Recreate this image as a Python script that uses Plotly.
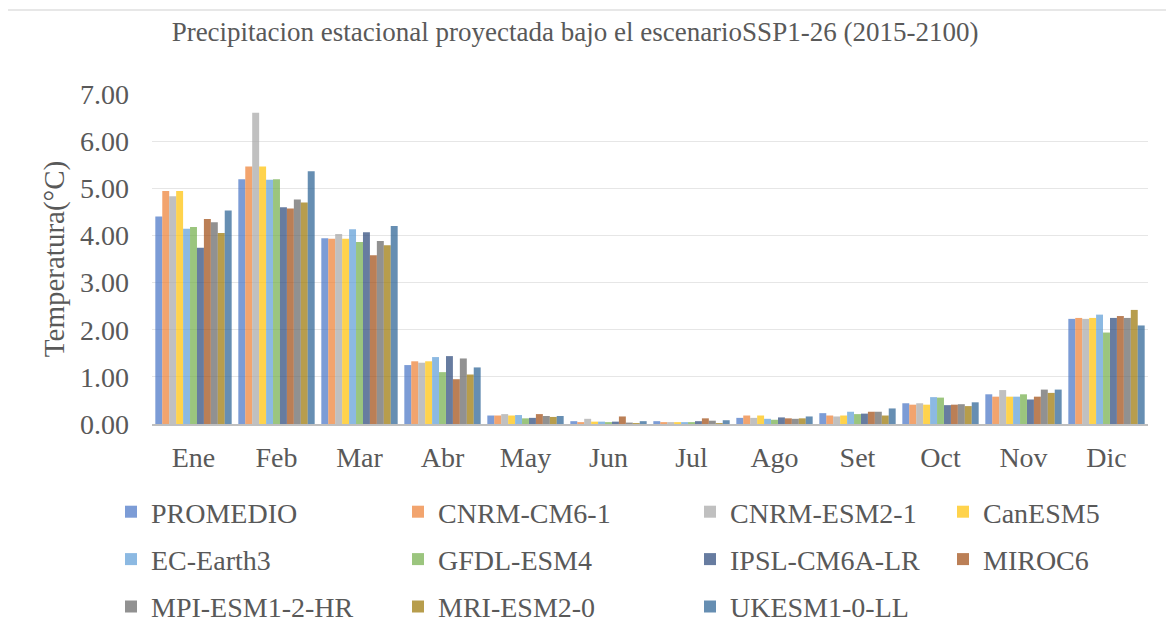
import plotly.graph_objects as go

months = ["Ene", "Feb", "Mar", "Abr", "May", "Jun", "Jul", "Ago", "Set", "Oct", "Nov", "Dic"]

promedio   = [4.40, 5.19, 3.94, 1.25, 0.18, 0.06, 0.06, 0.13, 0.23, 0.44, 0.63, 2.23]
cnrm_cm6   = [4.94, 5.46, 3.93, 1.33, 0.18, 0.04, 0.04, 0.18, 0.18, 0.41, 0.58, 2.25]
cnrm_esm2  = [4.83, 6.60, 4.03, 1.30, 0.21, 0.11, 0.04, 0.13, 0.16, 0.44, 0.72, 2.23]
canesm5    = [4.94, 5.46, 3.93, 1.33, 0.18, 0.05, 0.04, 0.18, 0.18, 0.41, 0.58, 2.25]
ec_earth3  = [4.14, 5.18, 4.13, 1.42, 0.19, 0.05, 0.04, 0.11, 0.26, 0.57, 0.58, 2.32]
gfdl_esm4  = [4.18, 5.19, 3.86, 1.10, 0.12, 0.04, 0.04, 0.09, 0.21, 0.56, 0.63, 1.94]
ipsl       = [3.74, 4.60, 4.07, 1.44, 0.13, 0.05, 0.06, 0.14, 0.22, 0.40, 0.52, 2.25]
miroc6     = [4.35, 4.57, 3.58, 0.95, 0.21, 0.16, 0.12, 0.12, 0.26, 0.41, 0.58, 2.29]
mpi        = [4.28, 4.76, 3.88, 1.39, 0.17, 0.03, 0.07, 0.11, 0.26, 0.42, 0.73, 2.25]
mri        = [4.05, 4.70, 3.79, 1.05, 0.15, 0.02, 0.02, 0.12, 0.18, 0.38, 0.66, 2.42]
ukesm      = [4.53, 5.36, 4.20, 1.20, 0.17, 0.06, 0.08, 0.16, 0.33, 0.46, 0.73, 2.09]

series_names = ["PROMEDIO", "CNRM-CM6-1", "CNRM-ESM2-1", "CanESM5", "EC-Earth3", "GFDL-ESM4",
                "IPSL-CM6A-LR", "MIROC6", "MPI-ESM1-2-HR", "MRI-ESM2-0", "UKESM1-0-LL"]
series_values = [promedio, cnrm_cm6, cnrm_esm2, canesm5, ec_earth3, gfdl_esm4,
                 ipsl, miroc6, mpi, mri, ukesm]
colors = ["#4472C4", "#ED7D31", "#A5A5A5", "#FFC000", "#5B9BD5", "#70AD47",
          "#264478", "#9E480E", "#636363", "#997300", "#255E91"]

y_ticks = [0, 1, 2, 3, 4, 5, 6, 7]

# The page body has an 8px margin; lay the figure out in reference pixels and compensate.
OFF = 8
W, H = 1174 - OFF, 633 - OFF
L = 152 - OFF
T = 94 - OFF
PR = 1148 - OFF       # plot right edge
PB = 424 - OFF        # plot bottom edge
R = W - PR
B = H - PB
pw, ph = PR - L, PB - T

def px_to_paper_x(px):  # px in reference coords
    return (px - OFF - L) / pw

def px_to_paper_y(py):
    return (PB - (py - OFF)) / ph

def rgba(hexc, a=0.7):
    hexc = hexc.lstrip("#")
    r, g, b = int(hexc[0:2], 16), int(hexc[2:4], 16), int(hexc[4:6], 16)
    return f"rgba({r},{g},{b},{a})"

FONT = "Liberation Serif, Times New Roman, serif"
TXT = "#595959"

legend_cols = [0, 1, 2, 3, 0, 1, 2, 3, 0, 1, 2]
legend_ids = ["legend", "legend2", "legend3", "legend4"]

fig = go.Figure()
for i, (name, vals, c) in enumerate(zip(series_names, series_values, colors)):
    fig.add_trace(go.Bar(
        x=months, y=vals, name=name,
        marker=dict(color=rgba(c), line=dict(width=0)),
        legend=legend_ids[legend_cols[i]],
        legendgroup=name,
        hovertemplate="%{x}: %{y:.2f}<extra>" + name + "</extra>",
    ))

col_px = [111, 398, 690, 943]
leg_top = 487
legend_common = dict(
    orientation="v", yanchor="top", xanchor="left",
    font=dict(family=FONT, size=28, color=TXT),
    bgcolor="rgba(0,0,0,0)", tracegroupgap=8,
)
legends = {}
for k, lid in enumerate(legend_ids):
    legends[lid] = dict(x=px_to_paper_x(col_px[k]), y=px_to_paper_y(leg_top), **legend_common)

fig.update_layout(
    width=W, height=H,
    margin=dict(l=L, r=R, t=T, b=B, pad=0, autoexpand=False),
    paper_bgcolor="white", plot_bgcolor="white",
    barmode="group", bargap=0.08, bargroupgap=0,
    showlegend=True,
    title=dict(
        text="Precipitacion estacional proyectada bajo el escenarioSSP1-26 (2015-2100)",
        x=(575 - OFF) / W, xanchor="center", y=1 - (32 - OFF) / H, yanchor="middle",
        xref="container", yref="container",
        font=dict(family=FONT, size=27, color=TXT),
    ),
    font=dict(family=FONT, color=TXT),
    xaxis=dict(
        type="category", categoryorder="array", categoryarray=months,
        showline=True, linecolor="#BFBFBF", linewidth=2,
        showgrid=False, ticks="", ticklabelstandoff=7,
        tickfont=dict(family=FONT, size=28, color=TXT),
        fixedrange=True,
    ),
    yaxis=dict(
        range=[0, 7], tickvals=y_ticks, tickformat=".2f",
        showgrid=True, gridcolor="#E6E6E6", gridwidth=1,
        zeroline=False, showline=False, ticks="",
        ticklabelstandoff=22,
        tickfont=dict(family=FONT, size=28, color=TXT),
        title=dict(text="Temperatura(°C)", standoff=6,
                   font=dict(family=FONT, size=29, color=TXT)),
        fixedrange=True,
    ),
    shapes=[dict(
        type="rect", xref="paper", yref="paper",
        x0=px_to_paper_x(6), x1=px_to_paper_x(1168),
        y0=px_to_paper_y(650), y1=px_to_paper_y(10),
        line=dict(color="#D0D0D0", width=1.2), fillcolor="rgba(0,0,0,0)", layer="above",
    )],
    **legends,
)

fig.write_html("out.html")
